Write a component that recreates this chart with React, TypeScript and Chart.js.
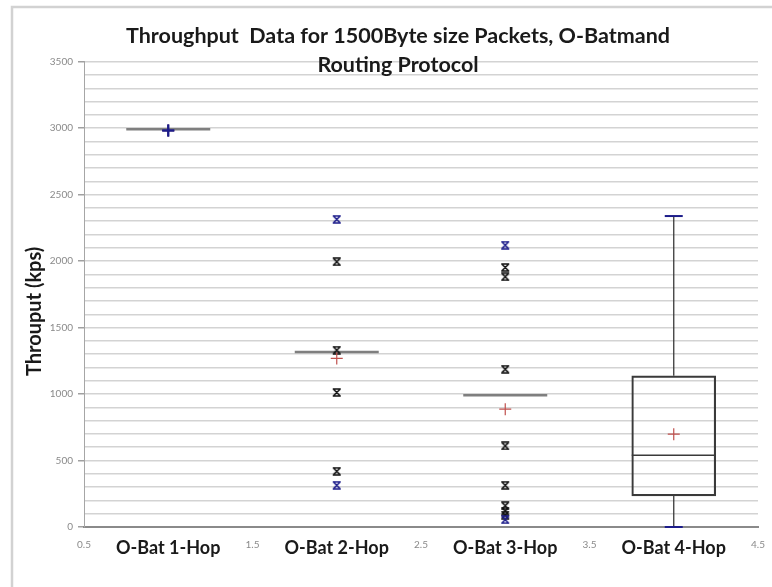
import React, { useEffect, useRef } from 'react';
import { Chart, registerables } from 'chart.js';

Chart.register(...registerables);

const categories = ['O-Bat 1-Hop', 'O-Bat 2-Hop', 'O-Bat 3-Hop', 'O-Bat 4-Hop'];
const positions = [1, 2, 3, 4];
const q1 = [2992, 1317, 991, 234];
const medians = [2992, 1317, 991, 540];
const q3 = [2992, 1317, 991, 1137];
const lowerWhisker = [2992, 1317, 991, 0];
const upperWhisker = [2992, 1317, 991, 2339];
const minimums = [2982, 314, 55, 0];
const maximums = [2982, 2314, 2120, 2339];
const means = [2982, 1268, 886, 698];
const outliers2 = [1995, 1330, 1012, 419];
const outliers3 = [1952, 1882, 1187, 610, 314, 160, 120, 90];
const outliersByGroup = [[], outliers2, outliers3, []];
const titleLines = ['Throughput  Data for 1500Byte size Packets, O-Batmand', 'Routing Protocol'];
const yTitle = 'Throuput (kps)';
const yMax = 3500;
const yStep = 100;
const yLabelStep = 500;

function makeHourglass(color: string) {
  const c = document.createElement('canvas');
  c.width = 10;
  c.height = 9;
  const g = c.getContext('2d')!;
  g.strokeStyle = color;
  g.lineWidth = 1.6;
  g.beginPath();
  g.moveTo(1, 1); g.lineTo(9, 1);
  g.moveTo(1, 8); g.lineTo(9, 8);
  g.moveTo(2, 1.5); g.lineTo(8, 7.5);
  g.moveTo(8, 1.5); g.lineTo(2, 7.5);
  g.stroke();
  return c;
}

const framePlugin = {
  id: 'frame',
  beforeDraw(chart: any) {
    const ctx = chart.ctx;
    ctx.save();
    ctx.strokeStyle = '#d2d2d2';
    ctx.lineWidth = 2.5;
    ctx.beginPath();
    ctx.moveTo(12, chart.height);
    ctx.lineTo(12, 7);
    ctx.lineTo(chart.width, 7);
    ctx.stroke();
    ctx.restore();
  },
};

const isCat = (c: any) => !!(c && c.tick && Number.isInteger(c.tick.value));

export default function App() {
  const ref = useRef<HTMLCanvasElement | null>(null);
  useEffect(() => {
    if (!ref.current) return;
    const blueHG = makeHourglass('#1c1c8a');
    const blackHG = makeHourglass('#111111');
    const minmaxStyles: any[] = ['cross', blueHG, blueHG, 'line'];
    const minmaxRadius = [6, 5, 5, 9];
    const dark = '#3a3a3a';
    const grey = '#7f7f7f';

    const whiskerData: any[] = [];
    positions.forEach((p, i) => {
      whiskerData.push({ x: p, y: q3[i] }, { x: p, y: upperWhisker[i] }, { x: p, y: null });
      whiskerData.push({ x: p, y: lowerWhisker[i] }, { x: p, y: q1[i] }, { x: p, y: null });
    });
    const outlierData: any[] = [];
    positions.forEach((p, i) => outliersByGroup[i].forEach((v) => outlierData.push({ x: p, y: v })));

    const chart = new Chart(ref.current, {
      type: 'scatter',
      data: {
        datasets: [
          {
            type: 'bar',
            data: positions.map((p, i) => ({ x: p, y: [q1[i], q3[i]] })) as any,
            backgroundColor: 'rgba(0,0,0,0)',
            borderColor: dark,
            borderWidth: 1.5,
            borderSkipped: false,
            barThickness: 84,
            order: 6,
          } as any,
          {
            type: 'line',
            data: whiskerData,
            borderColor: dark,
            borderWidth: 1.3,
            pointRadius: 0,
            spanGaps: false,
            fill: false,
            order: 5,
            clip: false,
          } as any,
          {
            data: positions.map((p, i) => ({ x: p, y: medians[i] })),
            pointStyle: 'line',
            pointRadius: 42,
            borderColor: [grey, grey, grey, dark],
            pointBorderColor: [grey, grey, grey, dark],
            pointBorderWidth: [2.5, 2.5, 2.5, 1.5],
            order: 4,
            clip: false,
          } as any,
          {
            data: outlierData,
            pointStyle: blackHG,
            pointRadius: 5,
            order: 3,
            clip: false,
          } as any,
          {
            data: positions.map((p, i) => ({ x: p, y: means[i] })),
            pointStyle: 'cross',
            pointRadius: 6,
            pointBorderColor: '#c0504d',
            pointBorderWidth: 1.2,
            order: 2,
            clip: false,
          } as any,
          {
            data: positions.map((p, i) => ({ x: p, y: maximums[i] })),
            pointStyle: minmaxStyles,
            pointRadius: minmaxRadius,
            pointBorderColor: '#1c1c8a',
            pointBorderWidth: 2,
            order: 1,
            clip: false,
          } as any,
          {
            data: positions.map((p, i) => ({ x: p, y: minimums[i] })),
            pointStyle: minmaxStyles,
            pointRadius: minmaxRadius,
            pointBorderColor: '#1c1c8a',
            pointBorderWidth: 2,
            order: 1,
            clip: false,
          } as any,
        ],
      },
      options: {
        animation: false,
        responsive: false,
        events: [],
        layout: { autoPadding: false, padding: { left: 38, right: 14, top: 0, bottom: 0 } },
        plugins: {
          legend: { display: false },
          tooltip: { enabled: false },
          title: {
            display: true,
            text: titleLines,
            color: '#1a1a1a',
            font: { family: 'Lato', size: 21.5, weight: 'bold', lineHeight: '29px' } as any,
            padding: { top: 21.5, bottom: -17.8 },
          },
        },
        scales: {
          x: {
            type: 'linear',
            min: 0.5,
            max: 4.5,
            offset: false,
            grid: { display: false },
            border: { display: true, color: '#8a8a8a', width: 2 },
            afterFit: (s: any) => {
              s.height = 60;
              s.paddingLeft = 0;
              s.paddingRight = 0;
            },
            ticks: {
              stepSize: 0.5,
              autoSkip: false,
              maxRotation: 0,
              minRotation: 0,
              padding: 4,
              callback: (v: any) => {
                const n = Number(v);
                if (Number.isInteger(n)) return categories[positions.indexOf(n)];
                return String(n);
              },
              color: (c: any) => (isCat(c) ? '#1a1a1a' : '#8a8a8a'),
              font: (c: any) =>
                isCat(c)
                  ? { family: 'Lato', size: 18, weight: 'bold', lineHeight: 1.05 }
                  : { family: 'Lato', size: 10, lineHeight: 1.2 },
            } as any,
          },
          y: {
            min: 0,
            max: yMax,
            afterFit: (s: any) => { s.width = 46; },
            grid: {
              color: '#d3d3d3',
              lineWidth: 1.5,
              tickLength: 6,
              tickColor: (c: any) => (c && c.tick && c.tick.value % yLabelStep === 0 ? '#a0a0a0' : 'rgba(0,0,0,0)'),
            },
            border: { display: true, color: '#a6a6a6', width: 1 },
            title: {
              display: true,
              text: yTitle + '       ',
              color: '#1a1a1a',
              font: { family: 'Lato', size: 20, weight: 'bold', lineHeight: 1.2 },
              padding: { top: -15, bottom: 0 },
            },
            ticks: {
              stepSize: yStep,
              autoSkip: false,
              padding: 5,
              color: '#8a8a8a',
              font: { family: 'Lato', size: 10 },
              callback: (v: any) => (Number(v) % yLabelStep === 0 ? String(v) : ''),
            },
          },
        },
      },
      plugins: [framePlugin],
    });
    return () => chart.destroy();
  }, []);

  return (
    <div style={{ position: 'absolute', left: 0, top: 0, width: 772, height: 587, background: '#fff' }}>
      <canvas ref={ref} width={772} height={587} style={{ display: 'block' }} />
    </div>
  );
}
